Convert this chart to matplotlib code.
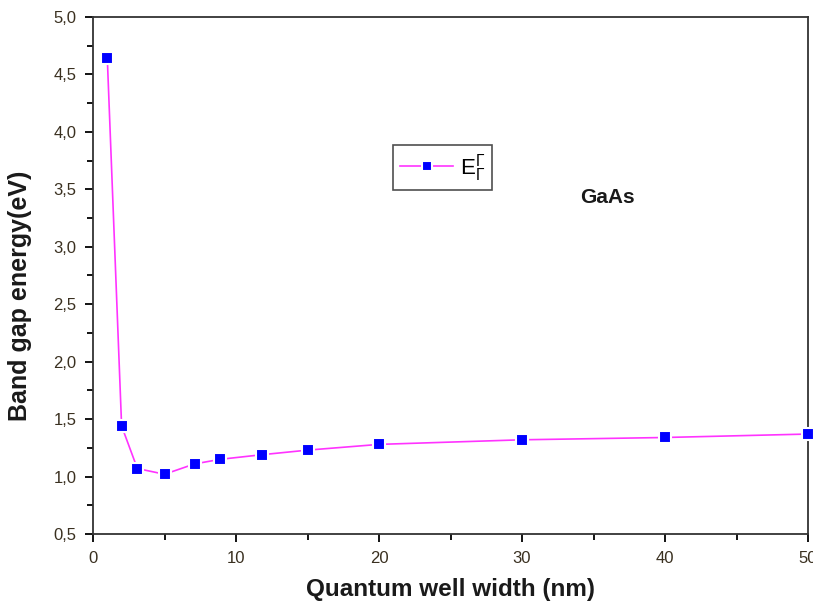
import matplotlib.pyplot as plt
import matplotlib.ticker as mticker

plt.rcParams['font.family'] = ['Liberation Sans', 'DejaVu Sans']

width = [1, 2, 3.1, 5, 7.1, 8.9, 11.8, 15, 20, 30, 40, 50]
energy = [4.64, 1.44, 1.07, 1.02, 1.11, 1.15, 1.19, 1.23, 1.28, 1.32, 1.34, 1.37]

fig = plt.figure(figsize=(8.13, 6.15), dpi=100)
ax = fig.add_axes([0.1144, 0.1317, 0.8795, 0.8407])

ax.plot(width, energy, color='#ff33ff', lw=1.2, marker='s', ms=8,
        markerfacecolor='#0000ff', markeredgecolor='white', markeredgewidth=1.5,
        label=r'$\mathregular{E_{\Gamma}^{\Gamma}}$', clip_on=False, zorder=3)

ax.set_xlim(0, 50)
ax.set_ylim(0.5, 5.0)
ax.xaxis.set_major_locator(mticker.MultipleLocator(10))
ax.xaxis.set_minor_locator(mticker.MultipleLocator(5))
ax.yaxis.set_major_locator(mticker.MultipleLocator(0.5))
ax.yaxis.set_minor_locator(mticker.MultipleLocator(0.25))
ax.yaxis.set_major_formatter(mticker.FuncFormatter(lambda v, p: f'{v:.1f}'.replace('.', ',')))

ax.tick_params(which='both', direction='out', top=False, right=False, width=1.3,
               labelsize=12, labelcolor='#3a3020', pad=6)
ax.tick_params(which='major', length=6)
ax.tick_params(which='minor', length=4)
for s in ax.spines.values():
    s.set_linewidth(1.3)
    s.set_color('#333333')

ax.set_xlabel('Quantum well width (nm)', fontsize=17.5, fontweight='bold', labelpad=9,
              color='#1a1a1a')
ax.set_ylabel('Band gap energy(eV)', fontsize=18, fontweight='bold',
              color='#1a1a1a')
ax.yaxis.set_label_coords(-0.085, 0.46)

ax.text(0.681, 0.65, 'GaAs', transform=ax.transAxes, fontsize=15, fontweight='bold',
        va='center', color='#1a1a1a')

leg = ax.legend(loc='upper left', bbox_to_anchor=(0.42, 0.752), fontsize=16,
                fancybox=False, edgecolor='#222222', handlelength=2.4,
                borderpad=0.3, handletextpad=0.3, markerscale=0.9, borderaxespad=0)
leg.get_frame().set_linewidth(1.2)

fig.savefig('out.png', dpi=100)
